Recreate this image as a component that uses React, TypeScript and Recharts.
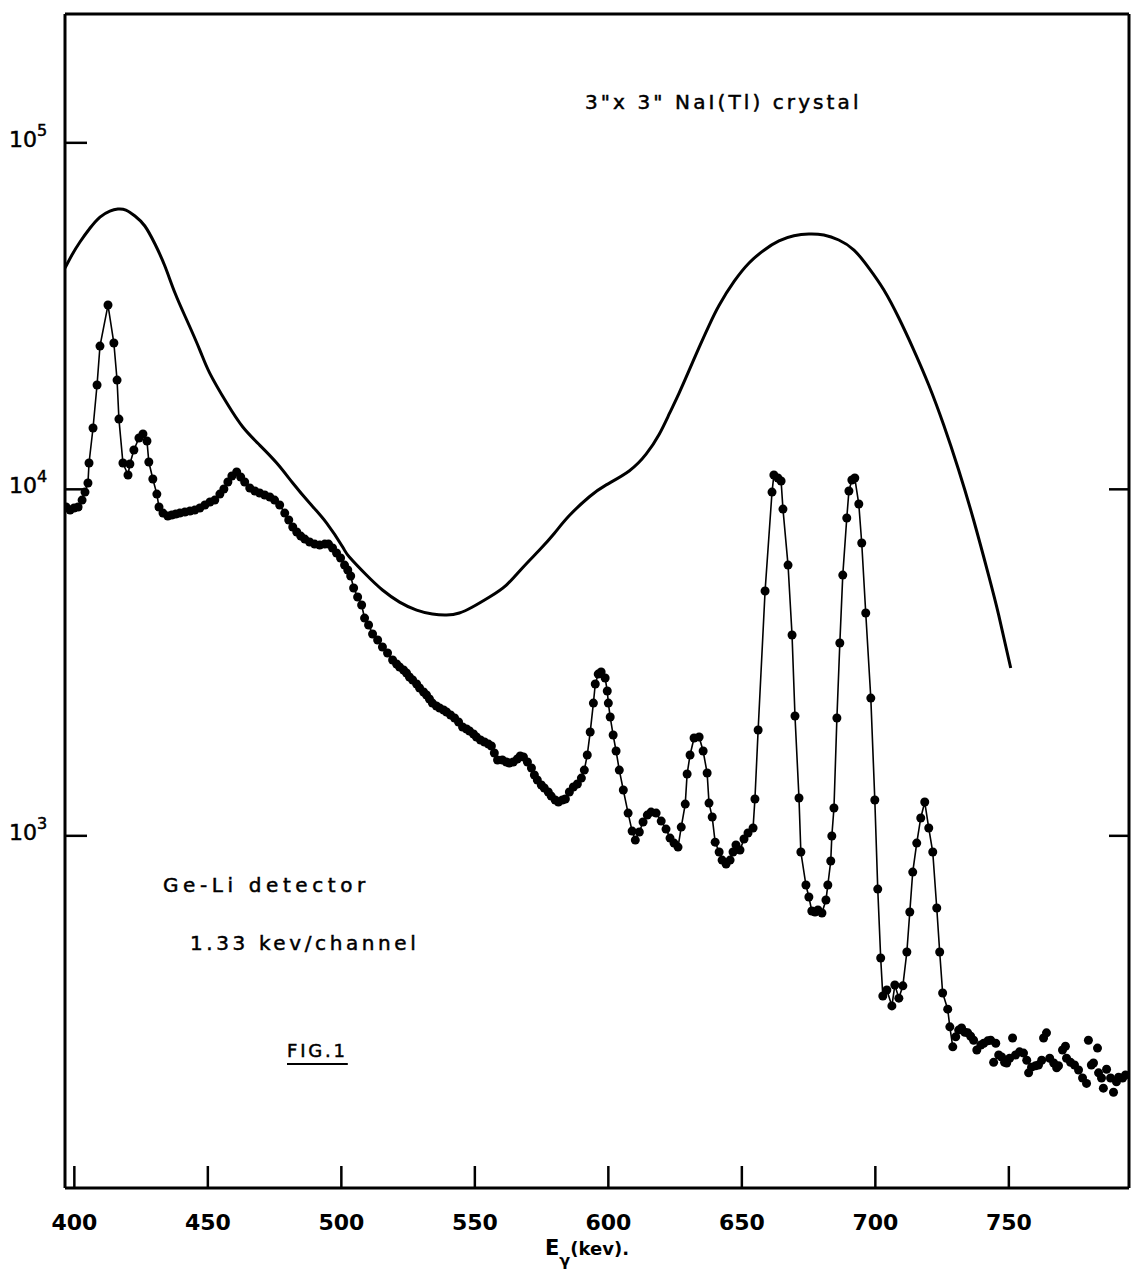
import { ComposedChart, Line, Scatter, XAxis, YAxis } from 'recharts';

// Ge-Li spectrum, connected points [E keV, counts]
const geLiPoints = [
  [396.9, 8890], [398.4, 8710], [399.9, 8830], [401.4, 8890], [402.9, 9310], [404.0, 9820], [405.1, 10430],
  [405.5, 11910], [407.0, 15030], [408.5, 20000], [409.6, 25910], [412.6, 34030], [414.8, 26440], [416.0, 20670],
  [416.7, 15950], [418.2, 11910], [420.1, 11000], [420.8, 11830], [422.3, 12985], [424.2, 14060], [425.7, 14440],
  [427.2, 13790], [427.9, 11990], [429.4, 10710], [430.9, 9690], [431.7, 8890], [433.2, 8540], [435.0, 8375],
  [436.5, 8430], [438.0, 8490], [439.5, 8540], [441.4, 8600], [443.3, 8660], [445.1, 8710], [447.0, 8830],
  [448.9, 9010], [450.8, 9190], [452.6, 9310], [454.5, 9690], [456.0, 10020], [457.5, 10500], [459.0, 10930],
  [460.8, 11220], [462.3, 10850], [463.8, 10500], [465.7, 10090], [467.6, 9890], [469.4, 9760], [471.3, 9630],
  [473.2, 9500], [475.0, 9310], [476.9, 9010], [478.8, 8540], [480.3, 8155], [481.8, 7785], [483.3, 7530],
  [484.8, 7330], [486.3, 7185], [488.1, 7045], [490.0, 6950], [491.9, 6905], [493.8, 6950], [495.2, 6950],
  [496.7, 6770], [498.2, 6550], [499.7, 6335], [501.2, 6045], [502.4, 5850], [503.5, 5620], [504.6, 5190],
  [506.1, 4890], [507.6, 4635], [508.7, 4250], [510.2, 4060], [511.7, 3823], [513.6, 3675], [515.4, 3506],
  [517.3, 3370], [519.2, 3217], [520.7, 3133], [521.8, 3070], [523.3, 3010], [524.4, 2950], [525.5, 2873],
  [526.7, 2816], [528.2, 2742], [529.3, 2670], [530.8, 2600], [531.9, 2549], [533.0, 2482], [534.1, 2416],
  [535.6, 2369], [536.8, 2338], [538.3, 2307], [539.4, 2277], [540.9, 2232], [542.4, 2188], [543.9, 2130],
  [545.4, 2061], [546.9, 2034], [548.0, 2007], [549.5, 1967], [550.6, 1928], [552.1, 1890], [553.6, 1865],
  [555.1, 1840], [556.2, 1816], [557.3, 1734], [558.5, 1655], [560.3, 1655], [561.8, 1633], [562.9, 1622],
  [564.4, 1633], [565.9, 1666], [567.0, 1700], [568.2, 1689], [569.7, 1633], [571.2, 1570], [572.3, 1498],
  [573.4, 1449], [574.9, 1402], [576.0, 1374], [577.5, 1338], [578.6, 1302], [580.1, 1269], [581.3, 1252],
  [582.8, 1269], [583.9, 1277], [585.4, 1338], [586.9, 1383], [588.4, 1411], [589.9, 1468], [591.0, 1548],
  [592.1, 1711], [593.2, 1993], [594.4, 2416], [595.1, 2742], [596.2, 2930], [597.3, 2970], [598.8, 2854],
  [599.6, 2618], [600.0, 2416], [600.7, 2202], [601.8, 1954], [602.9, 1757], [604.1, 1548], [605.6, 1356],
  [607.4, 1163], [608.9, 1032], [610.1, 972], [611.6, 1026], [613.0, 1096], [614.6, 1148], [616.0, 1171],
  [617.9, 1163], [619.8, 1103], [621.6, 1046], [623.1, 985], [624.6, 953], [626.1, 928], [627.3, 1060],
  [628.8, 1235], [629.5, 1508], [630.6, 1711], [632.1, 1915], [634.0, 1928], [635.5, 1757], [637.0, 1518],
  [637.7, 1243], [638.9, 1133], [640.0, 959], [641.5, 898], [642.6, 851], [644.1, 829], [645.6, 851],
  [646.7, 898], [647.8, 941], [649.3, 910], [650.8, 979], [652.3, 1019], [654.2, 1053], [654.9, 1277],
  [656.1, 2020], [658.7, 5089], [661.3, 9820], [662.0, 11000], [663.5, 10780], [664.7, 10570], [665.4, 8770],
  [667.3, 6045], [668.8, 3798], [669.9, 2217], [671.4, 1286], [672.1, 898], [674.0, 721], [675.1, 666],
  [676.2, 607], [677.4, 603], [678.5, 611], [680.0, 599], [681.5, 653], [682.2, 721], [683.3, 846],
  [683.7, 999], [684.5, 1203], [685.6, 2188], [686.7, 3601], [687.8, 5655], [689.3, 8265], [690.1, 9890],
  [691.2, 10640], [692.3, 10780], [693.8, 9070], [694.9, 7000], [696.4, 4395], [698.3, 2498], [699.8, 1269],
  [700.9, 702], [702.0, 444], [702.8, 345], [704.3, 359], [706.2, 323], [707.3, 371], [708.8, 340],
  [710.3, 369], [711.8, 462], [712.9, 603], [714.0, 786], [715.5, 953], [717.0, 1126], [718.5, 1252],
  [720.0, 1053], [721.5, 898], [723.0, 619], [724.1, 462], [725.2, 352], [727.1, 316], [727.9, 281], [729.0, 246],
];

// Ge-Li tail, scattered points without connecting line
const geLiTail = [
  [730.1, 263], [731.2, 275], [732.3, 279], [733.5, 271], [734.6, 270], [735.7, 264], [736.8, 257], [738.0, 241],
  [739.5, 249], [740.6, 252], [742.1, 256], [743.2, 257], [744.3, 222], [745.1, 252], [746.2, 233], [747.3, 230],
  [748.4, 222], [749.2, 221], [750.3, 228], [751.4, 261], [752.5, 233], [754.0, 238], [755.5, 236], [756.7, 225],
  [757.4, 207], [758.5, 215], [760.0, 217], [761.1, 218], [762.3, 225], [763.0, 261], [764.1, 270], [765.3, 228],
  [766.8, 221], [767.9, 214], [768.6, 217], [770.1, 241], [771.2, 247], [771.6, 228], [773.1, 222], [774.6, 218],
  [776.1, 211], [777.6, 200], [779.1, 193], [779.8, 257], [780.9, 218], [781.7, 221], [783.2, 244], [783.6, 207],
  [784.7, 200], [785.4, 187], [786.6, 212], [788.1, 200], [789.2, 182], [790.3, 195], [791.1, 201], [792.6, 200],
  [793.7, 204],
];

// 3"x3" NaI(Tl) spectrum (smooth curve)
const naiPoints = [
  [396.5, 43500], [399.1, 47460], [402.1, 51730], [405.9, 56770], [409.6, 61070], [413.3, 63560], [416.3, 64420],
  [419.3, 63990], [422.7, 61480], [426.4, 57540], [430.2, 51040], [433.9, 44100], [437.7, 36860], [442.1, 30810],
  [447.0, 25230], [450.7, 21650], [457.1, 17740], [463.1, 15130], [469.4, 13420], [475.8, 11910], [481.8, 10430],
  [488.1, 9130], [494.5, 7990], [500.5, 6815], [503.0, 6378], [509.4, 5657], [515.4, 5122], [521.8, 4727],
  [528.2, 4483], [534.1, 4366], [539.4, 4336], [544.2, 4395], [549.1, 4574], [555.5, 4890], [561.8, 5293],
  [567.8, 5929], [574.2, 6680], [579.8, 7470], [585.4, 8400], [592.9, 9520], [599.2, 10300], [607.8, 11300],
  [614.2, 12650], [619.0, 14400], [622.8, 16500], [626.5, 18960], [630.2, 22000], [634.0, 25700], [637.7, 29700],
  [641.5, 34000], [647.1, 39800], [652.7, 45000], [658.3, 49000], [663.9, 52100], [669.5, 53900], [675.1, 54550],
  [680.7, 54190], [686.3, 52430], [692.0, 49040], [697.6, 43500], [703.2, 37610], [708.8, 31220], [714.4, 25230],
  [720.0, 20000], [725.6, 15330], [731.2, 11370], [736.8, 8155], [742.4, 5655], [746.2, 4336], [750.7, 3050],
];

const xTicks = [400, 450, 500, 550, 600, 650, 700, 750];
const yTicksLeft = [1000, 10000, 100000];
const yTicksRight = [1000, 10000];

const toRows = (pts) => pts.map(([e, c]) => ({ e, c }));
const geLiData = toRows(geLiPoints);
const tailData = toRows(geLiTail);
const naiData = toRows(naiPoints);

const FONT = '"DejaVu Sans", sans-serif';
const xDomain = [396.5, 795];
const yDomain = [96.3, 235400];

const XTick = ({ x, y, payload }) => (
  <g>
    <line x1={x} y1={y} x2={x} y2={y - 22} stroke="#000" strokeWidth={2.5} />
    <text x={x} y={y + 42} textAnchor="middle" fontSize={22} fontFamily={FONT} fontWeight="bold" fill="#000">
      {payload.value}
    </text>
  </g>
);

const YTickLeft = ({ x, y, payload }) => {
  const exp = Math.round(Math.log10(payload.value));
  return (
    <g>
      <line x1={x} y1={y} x2={x + 22} y2={y} stroke="#000" strokeWidth={2.5} />
      <text x={x - 56} y={y + 4} fontSize={22} fontFamily={FONT} fill="#000" stroke="#000" strokeWidth={0.5}>
        10<tspan dy={-11} fontSize={16}>{exp}</tspan>
      </text>
    </g>
  );
};

const YTickRight = ({ x, y }) => (
  <line x1={x} y1={y} x2={x - 20} y2={y} stroke="#000" strokeWidth={2.5} />
);

const dotShape = (p) => <circle cx={p.cx} cy={p.cy} r={4.5} fill="#000" />;

export default function App() {
  const txt = {
    position: 'absolute', fontFamily: FONT, color: '#000', whiteSpace: 'nowrap', WebkitTextStroke: '0.5px #000',
  } as const;
  return (
    <div style={{ position: 'absolute', left: 0, top: 0, width: 1131, height: 1286, background: '#fff' }}>
      <ComposedChart width={1131} height={1286} margin={{ top: 13, right: 1, bottom: 0, left: 0 }}>
        <XAxis
          dataKey="e" type="number" domain={xDomain} allowDataOverflow ticks={xTicks}
          height={98} axisLine={{ stroke: '#000', strokeWidth: 3 }} tickLine={false}
          tickSize={0} tickMargin={0} tick={<XTick />} interval={0}
        />
        <XAxis
          xAxisId="top" orientation="top" dataKey="e" type="number" domain={xDomain} allowDataOverflow
          height={1} axisLine={{ stroke: '#000', strokeWidth: 3 }} tick={false} tickLine={false}
        />
        <YAxis
          dataKey="c" scale="log" type="number" domain={yDomain} allowDataOverflow ticks={yTicksLeft}
          width={65} axisLine={{ stroke: '#000', strokeWidth: 3 }} tickLine={false}
          tickSize={0} tickMargin={0} tick={<YTickLeft />} interval={0}
        />
        <YAxis
          yAxisId="r" orientation="right" dataKey="c" scale="log" type="number" domain={yDomain}
          allowDataOverflow ticks={yTicksRight} width={1} axisLine={{ stroke: '#000', strokeWidth: 3 }}
          tickLine={false} tickSize={0} tickMargin={0} tick={<YTickRight />} interval={0}
        />
        <Line
          xAxisId="top" data={naiData} dataKey="c" type="natural" stroke="#000" strokeWidth={3}
          dot={false} activeDot={false} isAnimationActive={false}
        />
        <Line
          data={geLiData} dataKey="c" type="linear" stroke="#000" strokeWidth={1.6}
          dot={{ r: 4.5, fill: '#000', stroke: 'none' }} activeDot={false} isAnimationActive={false}
        />
        <Scatter
          yAxisId="r" data={tailData} dataKey="c" fill="#000" shape={dotShape} isAnimationActive={false}
        />
      </ComposedChart>

      <div style={{ ...txt, left: 585, top: 90, fontSize: 20, letterSpacing: 3.1 }}>3"x 3" NaI(Tl) crystal</div>
      <div style={{ ...txt, left: 163, top: 873, fontSize: 20, letterSpacing: 4.6 }}>Ge-Li detector</div>
      <div style={{ ...txt, left: 190, top: 931, fontSize: 20, letterSpacing: 3.6 }}>1.33 kev/channel</div>
      <div
        style={{
          ...txt, left: 287, top: 1040, fontSize: 18, letterSpacing: 2.8,
          textDecoration: 'underline', textDecorationThickness: 2, textUnderlineOffset: 6,
        }}
      >
        FIG.1
      </div>
      <div style={{ ...txt, left: 545, top: 1236, fontSize: 21, fontWeight: 'bold', WebkitTextStroke: '0' }}>
        E<span style={{ fontSize: 16, position: 'relative', top: 11 }}>γ</span>
        <span style={{ fontSize: 18 }}>(kev).</span>
      </div>
    </div>
  );
}
